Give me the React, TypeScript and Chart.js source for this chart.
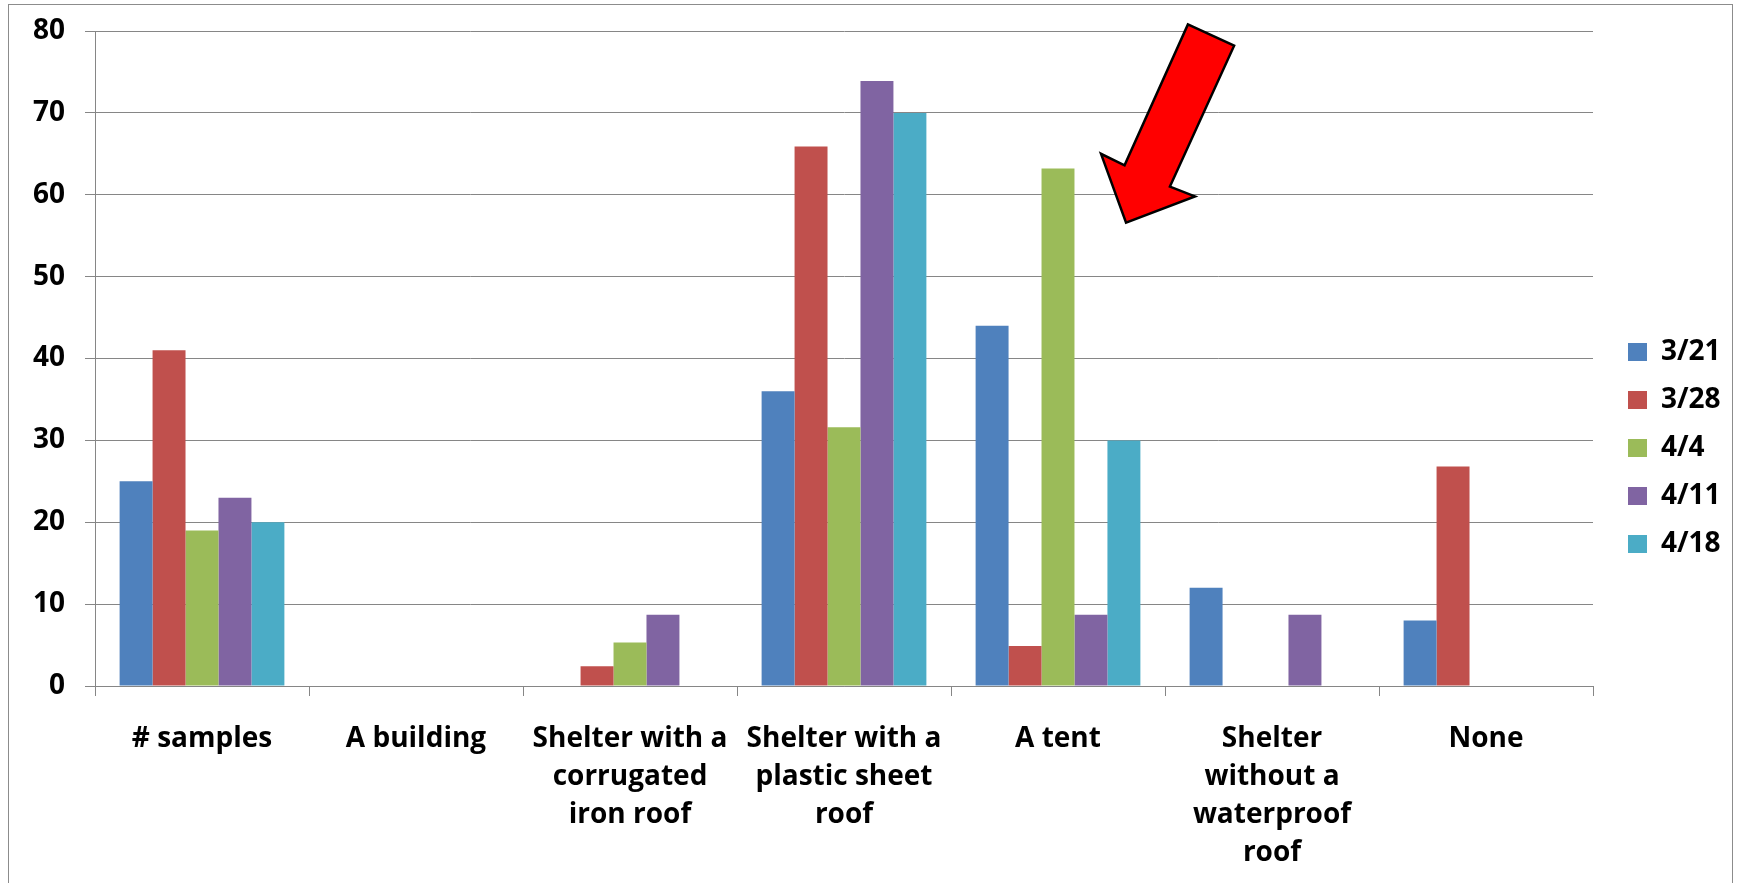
import React, { useEffect, useRef } from 'react';
import { Chart, registerables } from 'chart.js';

Chart.register(...registerables);

const categories: (string | string[])[] = [
  '# samples',
  'A building',
  ['Shelter with a', 'corrugated', 'iron roof'],
  ['Shelter with a', 'plastic sheet', 'roof'],
  'A tent',
  ['Shelter', 'without a', 'waterproof', 'roof'],
  'None',
];

const seriesLabels = ['3/21', '3/28', '4/4', '4/11', '4/18'];
const seriesColors = ['#4F81BD', '#C0504D', '#9BBB59', '#8064A2', '#4BACC6'];

const s0321 = [25, 0, 0, 36, 44, 12, 8];
const s0328 = [41, 0, 2.4, 65.9, 4.9, 0, 26.8];
const s0404 = [19, 0, 5.3, 31.6, 63.2, 0, 0];
const s0411 = [23, 0, 8.7, 73.9, 8.7, 8.7, 0];
const s0418 = [20, 0, 0, 70, 30, 0, 0];

const yMin = 0;
const yMax = 80;
const yStep = 10;

// Call-out arrow outline, in data units (category index, value)
const arrowX = [4.607, 4.823, 4.523, 4.64, 4.318, 4.201, 4.311];
const arrowY = [80.8, 78.2, 61.0, 59.8, 56.6, 65.0, 63.6];

const FONT = { family: '"Open Sans", sans-serif', size: 28, weight: 'bold' as const, lineHeight: 1.36 };
const GRID = '#868686';

const arrowPlugin = {
  id: 'calloutArrow',
  afterDatasetsDraw(chart: any) {
    const { ctx, scales } = chart;
    const x = scales.x;
    const y = scales.y;
    ctx.save();
    ctx.beginPath();
    arrowX.forEach((v, i) => {
      const px = x.getPixelForValue(v);
      const py = y.getPixelForValue(arrowY[i]);
      if (i === 0) ctx.moveTo(px, py);
      else ctx.lineTo(px, py);
    });
    ctx.closePath();
    ctx.fillStyle = '#FF0000';
    ctx.fill();
    ctx.lineWidth = 2.5;
    ctx.lineJoin = 'miter';
    ctx.strokeStyle = '#000000';
    ctx.stroke();
    ctx.restore();
  },
};

const legendPlace = {
  id: 'legendPlace',
  beforeLayout(chart: any) {
    const lg = chart.legend;
    if (lg && !lg.__patched) {
      const orig = lg.fit.bind(lg);
      lg.fit = function () {
        orig();
        this.width = 148;
      };
      lg.__patched = true;
    }
  },
  afterLayout(chart: any) {
    const lg = chart.legend;
    if (!lg) return;
    lg.left += 15;
    lg.right += 15;
    lg.top = 2;
    lg.bottom = 894;
  },
};

export default function App() {
  const ref = useRef<HTMLCanvasElement | null>(null);

  useEffect(() => {
    if (!ref.current) return;
    const series = [s0321, s0328, s0404, s0411, s0418];
    const chart = new Chart(ref.current, {
      type: 'bar',
      data: {
        labels: categories as any,
        datasets: series.map((d, i) => ({
          label: seriesLabels[i],
          data: d,
          backgroundColor: seriesColors[i],
          borderWidth: 0,
          categoryPercentage: 0.77,
          barPercentage: 1.0,
        })),
      },
      options: {
        responsive: false,
        animation: false,
        layout: { padding: { top: 31, left: 0, right: 0, bottom: 0 } },
        plugins: {
          legend: {
            position: 'right',
            align: 'center',
            labels: {
              boxWidth: 19,
              boxHeight: 18,
              padding: 20,
              color: '#000000',
              font: FONT,
            },
          },
          tooltip: { enabled: false },
        },
        scales: {
          x: {
            grid: {
              offset: true,
              drawOnChartArea: false,
              drawTicks: true,
              tickLength: 10,
              color: GRID,
            },
            border: { display: true, color: GRID, width: 1 },
            ticks: {
              color: '#000000',
              font: FONT,
              maxRotation: 0,
              autoSkip: false,
              padding: 24,
            },
            afterFit(scale: any) {
              scale.height = 197;
            },
          },
          y: {
            min: yMin,
            max: yMax,
            ticks: {
              stepSize: yStep,
              color: '#000000',
              font: FONT,
              padding: 20,
            },
            grid: { color: GRID, drawTicks: true, tickLength: 10 },
            border: { display: true, color: GRID, width: 1 },
            afterFit(scale: any) {
              scale.width = 95;
              scale.paddingTop = 0;
              scale.paddingBottom = 0;
            },
          },
        },
      },
      plugins: [arrowPlugin, legendPlace],
    });
    return () => chart.destroy();
  }, []);

  return (
    <div style={{ position: 'fixed', left: 0, top: 0, width: 1741, height: 883, background: '#ffffff', overflow: 'hidden' }}>
      <div
        style={{
          position: 'absolute',
          left: 8,
          top: 4,
          width: 1725,
          height: 900,
          border: '1px solid #8C8C8C',
          boxSizing: 'border-box',
        }}
      />
      <canvas ref={ref} width={1741} height={883} style={{ position: 'absolute', left: 0, top: 0 }} />
    </div>
  );
}
